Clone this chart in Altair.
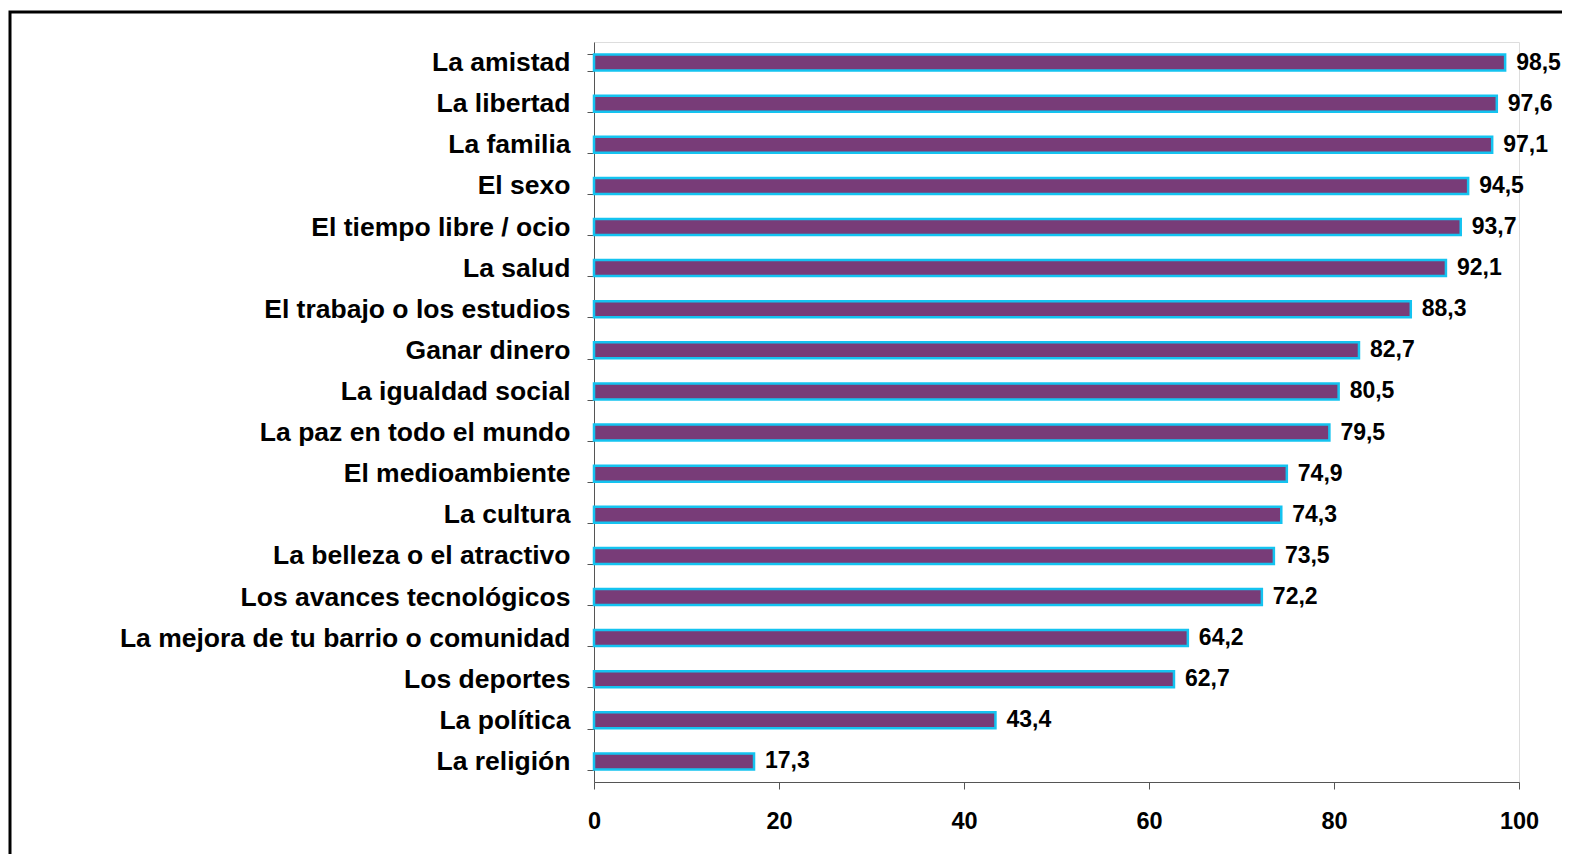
import altair as alt
import pandas as pd

categories = [
    "La amistad", "La libertad", "La familia", "El sexo", "El tiempo libre / ocio",
    "La salud", "El trabajo o los estudios", "Ganar dinero", "La igualdad social",
    "La paz en todo el mundo", "El medioambiente", "La cultura",
    "La belleza o el atractivo", "Los avances tecnológicos",
    "La mejora de tu barrio o comunidad", "Los deportes", "La política", "La religión",
]
values = [98.5, 97.6, 97.1, 94.5, 93.7, 92.1, 88.3, 82.7, 80.5, 79.5, 74.9, 74.3,
          73.5, 72.2, 64.2, 62.7, 43.4, 17.3]
x_ticks = [0, 20, 40, 60, 80, 100]

df = pd.DataFrame({"cat": categories, "val": values})
df["lbl"] = [f"{v:.1f}".replace(".", ",") for v in values]

FONT = "Liberation Sans"

y_enc = alt.Y("cat:N", sort=None, title=None,
              scale=alt.Scale(paddingInner=0.6, paddingOuter=0.3),
              axis=alt.Axis(tickBand="extent", tickSize=7, labelPadding=17,
                            labelFontSize=26.5, labelFontWeight="bold", labelColor="black",
                            labelFont=FONT, domainColor="#555555", tickColor="#555555",
                            labelLimit=600))
x_enc = alt.X("val:Q", title=None,
              scale=alt.Scale(domain=[0, 100], nice=False),
              axis=alt.Axis(values=x_ticks, tickSize=7, labelPadding=20, grid=False,
                            labelFlush=False,
                            labelFontSize=23.5, labelFontWeight="bold", labelColor="black",
                            labelFont=FONT, domainColor="#555555", tickColor="#555555",
                            format="d"))

base = alt.Chart(df)
bars = base.mark_bar(size=16, color="#783C78", stroke="#14C3F0", strokeWidth=2.5).encode(
    y=y_enc, x=x_enc)
labels = base.mark_text(align="left", baseline="middle", dx=11, fontSize=23,
                        fontWeight="bold", font=FONT, color="black").encode(
    y=alt.Y("cat:N", sort=None), x="val:Q", text="lbl:N")

frame = alt.Chart(pd.DataFrame({"a": [0]})).mark_rect(
    fill="transparent", stroke="black", strokeWidth=3).encode(
    x=alt.value(-584), x2=alt.value(1100), y=alt.value(-30), y2=alt.value(900))

chart = alt.layer(frame, bars, labels).properties(
    width=925, height=740,
    autosize=alt.AutoSizeParams(type="none"),
    padding={"left": 586, "top": 34, "right": 43, "bottom": 72},
).configure_view(stroke=None).configure(background="white")

chart.save("out.html", embed_options={"renderer": "svg", "actions": False})
